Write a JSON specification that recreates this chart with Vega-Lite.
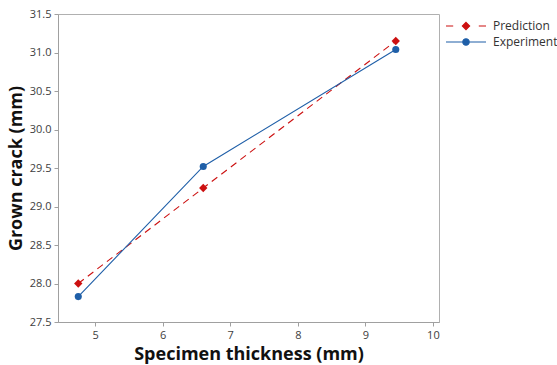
{
  "$schema": "https://vega.github.io/schema/vega-lite/v6.json",
  "width": 381,
  "height": 308,
  "autosize": {"type": "none"},
  "padding": {"left": 58, "top": 14, "right": 118, "bottom": 43},
  "background": "white",
  "config": {
    "view": {"stroke": "#b0b0b0", "strokeWidth": 1},
    "font": "Open Sans",
    "axis": {
      "grid": false,
      "domainColor": "#a0a0a0",
      "tickColor": "#a0a0a0",
      "tickSize": 4,
      "labelColor": "#404040",
      "labelFontSize": 11,
      "labelFont": "Open Sans",
      "titleFont": "Open Sans",
      "titleFontWeight": "bold",
      "titleColor": "#111111"
    }
  },
  "data": {
    "values": [
      {"thickness": 4.75, "crack": 28.0, "series": "Prediction"},
      {"thickness": 6.6, "crack": 29.24, "series": "Prediction"},
      {"thickness": 9.45, "crack": 31.15, "series": "Prediction"},
      {"thickness": 4.75, "crack": 27.83, "series": "Experiment"},
      {"thickness": 6.6, "crack": 29.52, "series": "Experiment"},
      {"thickness": 9.45, "crack": 31.04, "series": "Experiment"}
    ]
  },
  "encoding": {
    "x": {
      "field": "thickness", "type": "quantitative",
      "scale": {"domain": [4.45, 10.09], "nice": false, "zero": false},
      "axis": {"values": [5, 6, 7, 8, 9, 10], "title": "Specimen thickness (mm)", "titleFontSize": 18, "titlePadding": 5, "labelPadding": 3}
    },
    "y": {
      "field": "crack", "type": "quantitative",
      "scale": {"domain": [27.5, 31.5], "nice": false, "zero": false},
      "axis": {"values": [27.5, 28, 28.5, 29, 29.5, 30, 30.5, 31, 31.5], "format": ".1f", "title": "Grown crack (mm)", "titleFontSize": 18, "titlePadding": 4, "labelPadding": 3}
    },
    "color": {
      "field": "series", "type": "nominal",
      "scale": {"domain": ["Prediction", "Experiment"], "range": ["#CC1010", "#1F5FA8"]},
      "legend": {
        "title": null,
        "orient": "none",
        "legendX": 399,
        "legendY": 3,
        "padding": 0,
        "symbolSize": 256,
        "symbolStrokeWidth": 1.2,
        "labelFontSize": 12,
        "labelColor": "#333333",
        "rowPadding": 1,
        "labelOffset": 18,
        "encode": {
          "symbols": {
            "update": {
              "shape": {"signal": "datum.value === 'Prediction' ? 'M-2.5,0L-1.6,0M1.6,0L2.5,0M0,-0.45L0.45,0L0,0.45L-0.45,0Z' : 'M-2.5,0L2.5,0M-0.4,0A0.4,0.4 0 1,0 0.4,0A0.4,0.4 0 1,0 -0.4,0Z'"},
              "fill": {"signal": "datum.value === 'Prediction' ? '#CC1010' : '#1F5FA8'"},
              "stroke": {"signal": "datum.value === 'Prediction' ? '#CC1010' : '#1F5FA8'"},
              "opacity": {"value": 1}
            }
          }
        }
      }
    }
  },
  "layer": [
    {
      "transform": [{"filter": "datum.series === 'Prediction'"}],
      "mark": {"type": "line", "strokeWidth": 1.1, "strokeDash": [7, 5]}
    },
    {
      "transform": [{"filter": "datum.series === 'Experiment'"}],
      "mark": {"type": "line", "strokeWidth": 1.1}
    },
    {
      "transform": [{"filter": "datum.series === 'Prediction'"}],
      "mark": {"type": "point", "filled": true, "opacity": 1, "size": 70, "shape": "diamond"}
    },
    {
      "transform": [{"filter": "datum.series === 'Experiment'"}],
      "mark": {"type": "point", "filled": true, "opacity": 1, "size": 50, "shape": "circle"}
    }
  ]
}
